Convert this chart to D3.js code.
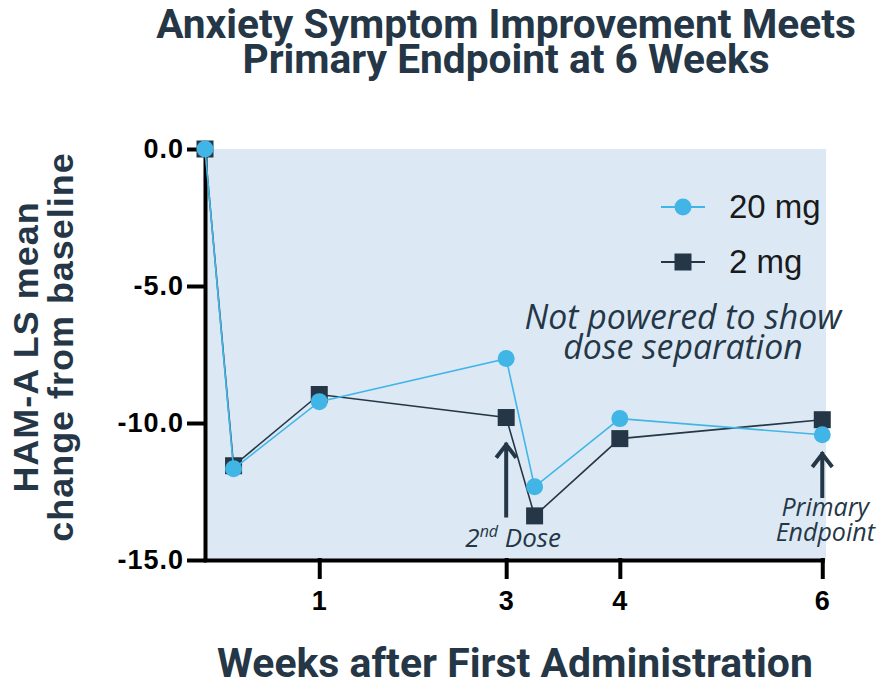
<!DOCTYPE html>
<html>
<head>
<meta charset="utf-8">
<script src="https://cdn.jsdelivr.net/npm/d3@7"></script>
<style>
  body { margin: 0; background: #fff; }
  svg { display: block; }
</style>
</head>
<body>
<script>
// data
const weeks = [0, 0.25, 1, 3, 3.25, 4, 6];
const dose20 = [0, -11.67, -9.22, -7.65, -12.33, -9.84, -10.43];
const dose2 = [0, -11.56, -8.96, -9.8, -13.39, -10.57, -9.88];
const xTicks = [1, 3, 4, 6];
const yTicks = [0, -5, -10, -15];
const seriesNames = ["20 mg", "2 mg"];

// the x axis is not evenly spaced in the original, so map the tick weeks piecewise
const xBreaks = [0, 1, 3, 4, 6];
const xBreakFrac = [0, 0.184, 0.485, 0.668, 0.994];

const navy = "#253746";
const blue = "#41b6e6";

const W = 886, H = 683;
const margin = { top: 149, right: 60, bottom: 123, left: 205 };
const width = W - margin.left - margin.right,
      height = H - margin.top - margin.bottom;

const svg = d3.select("body").append("svg")
    .attr("width", W)
    .attr("height", H);

// fit a text element to a given width by scaling the font size
function fitWidth(sel, target) {
    const fs = parseFloat(sel.attr("font-size"));
    const w = sel.node().getComputedTextLength();
    sel.attr("font-size", fs * target / w);
}

// title
const title = svg.append("g")
    .attr("font-family", "Roboto, sans-serif")
    .attr("font-weight", 700)
    .attr("fill", navy)
    .attr("text-anchor", "middle");
const t1 = title.append("text").attr("x", 506).attr("y", 38).attr("font-size", 34)
    .text("Anxiety Symptom Improvement Meets");
const t2 = title.append("text").attr("x", 506).attr("y", 73).attr("font-size", 34)
    .text("Primary Endpoint at 6 Weeks");
fitWidth(t1, 700);
t2.attr("font-size", t1.attr("font-size"));

const g = svg.append("g")
    .attr("transform", `translate(${margin.left},${margin.top})`);

let x = d3.scaleLinear()
    .domain(xBreaks)
    .range(xBreakFrac.map(f => f * width));

let y = d3.scaleLinear()
    .domain([0, -15])
    .range([0, height]);

// plot background
g.append("rect")
    .attr("x", 0)
    .attr("y", 0)
    .attr("width", width)
    .attr("height", height)
    .attr("fill", "#dce9f5");

// axes
const yAxis = g.append("g")
    .call(d3.axisLeft(y).tickValues(yTicks).tickFormat(d => d.toFixed(1))
        .tickSize(16).tickSizeOuter(0).tickPadding(5));
const xAxis = g.append("g")
    .attr("transform", `translate(0,${height})`)
    .call(d3.axisBottom(x).tickValues(xTicks).tickFormat(d3.format("d"))
        .tickSize(17).tickSizeOuter(0).tickPadding(14));

[yAxis, xAxis].forEach(a => {
    a.selectAll("path, line").attr("stroke", "#000").attr("stroke-width", 4)
        .attr("stroke-linecap", "square");
    a.selectAll("text")
        .attr("fill", "#000")
        .style("font-family", "'Liberation Sans', Arial, sans-serif")
        .style("font-weight", "bold")
        .style("font-size", "27px")
        .style("letter-spacing", "1px");
});
yAxis.select(".domain").attr("stroke-linecap", "butt");

// lines and markers
const rows = weeks.map((w, i) => ({ w: w, a: dose20[i], b: dose2[i] }));

g.append("path")
    .datum(rows)
    .attr("fill", "none")
    .attr("stroke", navy)
    .attr("stroke-width", 1.6)
    .attr("d", d3.line().x(d => x(d.w)).y(d => y(d.b)));

g.selectAll(".sq")
    .data(rows)
    .enter()
    .append("rect")
    .attr("x", d => x(d.w) - 8.5)
    .attr("y", d => y(d.b) - 8.5)
    .attr("width", 17)
    .attr("height", 17)
    .attr("fill", navy);

g.append("path")
    .datum(rows)
    .attr("fill", "none")
    .attr("stroke", blue)
    .attr("stroke-width", 1.6)
    .attr("d", d3.line().x(d => x(d.w)).y(d => y(d.a)));

g.selectAll(".dot")
    .data(rows)
    .enter()
    .append("circle")
    .attr("cx", d => x(d.w))
    .attr("cy", d => y(d.a))
    .attr("r", 8.5)
    .attr("fill", blue);

// legend
const legend = g.append("g").attr("transform", "translate(456,58)");
seriesNames.forEach((name, i) => {
    const row = legend.append("g").attr("transform", `translate(0,${i * 55})`);
    row.append("line").attr("x1", 0).attr("x2", 44)
        .attr("stroke", i === 0 ? blue : navy).attr("stroke-width", 2);
    if (i === 0) {
        row.append("circle").attr("cx", 22).attr("r", 8.5).attr("fill", blue);
    } else {
        row.append("rect").attr("x", 13.5).attr("y", -8.5).attr("width", 17).attr("height", 17)
            .attr("fill", navy);
    }
    row.append("text")
        .attr("x", 68)
        .attr("y", 11)
        .attr("font-family", "'Liberation Sans', Arial, sans-serif")
        .attr("font-size", 33)
        .attr("fill", "#1a1a1a")
        .text(name);
});

// annotations
const note = g.append("g")
    .attr("font-family", "'Open Sans', sans-serif")
    .attr("font-style", "italic")
    .attr("fill", navy)
    .attr("text-anchor", "middle");
const n1 = note.append("text").attr("x", 478).attr("y", 180).attr("font-size", 29)
    .text("Not powered to show");
fitWidth(n1, 317);
note.append("text").attr("x", 478).attr("y", 210).attr("font-size", n1.attr("font-size"))
    .text("dose separation");

const dose = note.append("text").attr("x", x(3) + 7).attr("y", 398).attr("font-size", 26);
dose.append("tspan").text("2");
dose.append("tspan").attr("dy", -10).attr("font-size", 16).text("nd");
dose.append("tspan").attr("dy", 10).text(" Dose");

note.append("text").attr("x", x(6) + 3).attr("y", 367).attr("font-size", 25).text("Primary");
note.append("text").attr("x", x(6) + 3).attr("y", 392).attr("font-size", 25).text("Endpoint");

function arrow(xv, top, bottom) {
    g.append("path")
        .attr("d", `M${x(xv)},${y(bottom)}V${y(top)}M${x(xv) - 10},${y(top) + 15}L${x(xv)},${y(top) + 2}L${x(xv) + 10},${y(top) + 15}`)
        .attr("fill", "none")
        .attr("stroke", navy)
        .attr("stroke-width", 4);
}
arrow(3, -10.72, -13.45);
arrow(6, -11.06, -12.74);

// axis titles
const xt = svg.append("text")
    .attr("x", 515)
    .attr("y", 677)
    .attr("text-anchor", "middle")
    .attr("font-family", "Roboto, sans-serif")
    .attr("font-weight", 700)
    .attr("font-size", 34)
    .attr("fill", navy)
    .text("Weeks after First Administration");
fitWidth(xt, 596);

const yt = svg.append("g")
    .attr("transform", "translate(0,347) rotate(-90)")
    .attr("text-anchor", "middle")
    .attr("font-family", "'Liberation Sans', Arial, sans-serif")
    .attr("font-weight", 700)
    .attr("fill", navy);
const y1 = yt.append("text").attr("x", 0).attr("y", 38).attr("font-size", 32)
    .style("letter-spacing", "1px").text("HAM-A LS mean");
const y2 = yt.append("text").attr("x", 0).attr("y", 73).attr("font-size", 32)
    .style("letter-spacing", "1px").text("change from baseline");
fitWidth(y2, 392);
y1.attr("font-size", y2.attr("font-size"));
</script>
</body>
</html>
